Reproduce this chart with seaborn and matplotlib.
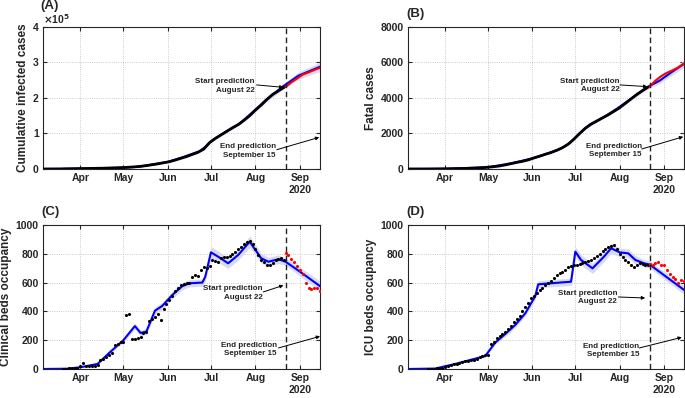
import matplotlib
matplotlib.use('Agg')
import matplotlib.pyplot as plt
import numpy as np
import pandas as pd
import seaborn as sns

# ---- (A) cumulative infected cases, units of 1e5 ----
a_model_dates = ['2020-03-06', '2020-04-01', '2020-05-01', '2020-05-12', '2020-06-01', '2020-06-12',
                 '2020-06-23', '2020-06-27', '2020-07-01', '2020-07-11', '2020-07-21', '2020-07-30',
                 '2020-08-08', '2020-08-20', '2020-08-31', '2020-09-15']
a_model = [0, 0.01, 0.04, 0.065, 0.2, 0.34, 0.5, 0.62, 0.78, 1.04, 1.28, 1.6, 1.93, 2.32, 2.63, 2.88]
a_band = [0, 0, 0.005, 0.005, 0.01, 0.015, 0.02, 0.025, 0.03, 0.035, 0.04, 0.05, 0.06, 0.07, 0.1, 0.13]
# observed every 4 days, Mar 6 .. Aug 21
a_data = [0, 0, 0, 0, 0.005, 0.007, 0.01, 0.012, 0.015, 0.018, 0.02, 0.024, 0.028, 0.033,
          0.04, 0.05, 0.06, 0.075, 0.095, 0.12, 0.145, 0.175, 0.205, 0.25, 0.3, 0.35, 0.41, 0.47,
          0.56, 0.74, 0.86, 0.96, 1.06, 1.16, 1.25, 1.37, 1.5, 1.66, 1.8, 1.96, 2.1, 2.2, 2.3]
# observed after prediction start, every 4 days, Aug 22 .. Sep 15
a_pred = [2.31, 2.44, 2.55, 2.66, 2.72, 2.79, 2.85]

# ---- (B) fatal cases ----
b_model_dates = ['2020-03-06', '2020-04-01', '2020-05-01', '2020-05-17', '2020-06-01', '2020-06-12',
                 '2020-06-21', '2020-06-27', '2020-07-02', '2020-07-11', '2020-07-21', '2020-07-30',
                 '2020-08-11', '2020-08-21', '2020-08-29', '2020-09-06', '2020-09-15']
b_model = [0, 10, 100, 317, 600, 876, 1155, 1450, 1850, 2500, 2930, 3390, 4080, 4640, 4980, 5440, 5920]
b_band = [0, 5, 10, 15, 20, 25, 30, 40, 50, 60, 70, 80, 100, 120, 150, 180, 200]
b_data = [0, 0, 0, 0, 2, 5, 8, 12, 18, 25, 32, 42, 55, 75, 100, 130, 170, 230, 300, 370, 430, 510,
          620, 720, 830, 930, 1050, 1200, 1400, 1680, 2000, 2300, 2520, 2700, 2880, 3050, 3250,
          3450, 3700, 3950, 4200, 4420, 4620]
b_pred = [4650, 4980, 5230, 5420, 5560, 5720, 5950]

# ---- (C) clinical beds occupancy ----
c_model_dates = ['2020-03-06', '2020-03-23', '2020-04-01', '2020-04-13', '2020-04-21', '2020-05-01',
                 '2020-05-09', '2020-05-13', '2020-05-17', '2020-05-23', '2020-05-28', '2020-06-04',
                 '2020-06-11', '2020-06-16', '2020-06-25', '2020-06-27', '2020-07-01', '2020-07-06',
                 '2020-07-13', '2020-07-20', '2020-07-28', '2020-08-05', '2020-08-10', '2020-08-17',
                 '2020-08-22', '2020-09-01', '2020-09-15']
c_model = [0, 2, 12, 35, 111, 200, 298, 250, 260, 405, 437, 513, 575, 595, 600, 640, 810, 780, 734,
           792, 884, 769, 745, 762, 745, 676, 575]
c_band = [0, 2, 4, 6, 10, 15, 20, 20, 20, 25, 25, 25, 25, 25, 25, 30, 40, 40, 35, 35, 40, 35, 30, 30,
          25, 30, 35]
# observed every 2 days, Mar 20 .. Aug 21
c_data = [2, 3, 4, 5, 8, 10,
          20, 40, 18, 18, 20, 22, 25, 60, 70, 85, 95, 110, 165, 175, 185,
          190, 375, 385, 205, 210, 215, 225, 250, 260, 330, 345, 360, 385, 340, 420, 450,
          480, 510, 540, 560, 580, 590, 595, 600, 640, 650, 645, 690, 705, 700, 715,
          760, 750, 745, 770, 780, 775, 785, 800, 815, 835, 850, 865, 880, 890, 870,
          830, 790, 760, 740, 725, 725, 735, 755, 765, 770, 760]
# observed every 2 days, Aug 22 .. Sep 15
c_pred = [805, 790, 765, 740, 715, 690, 660, 600, 560, 555, 560, 565, 545]

# ---- (D) ICU beds occupancy ----
d_model_dates = ['2020-03-06', '2020-03-25', '2020-04-08', '2020-04-29', '2020-05-06', '2020-05-13',
                 '2020-05-20', '2020-05-27', '2020-06-03', '2020-06-05', '2020-06-20', '2020-06-28',
                 '2020-07-01', '2020-07-05', '2020-07-13', '2020-07-21', '2020-07-26', '2020-08-01',
                 '2020-08-07', '2020-08-12', '2020-08-18', '2020-08-22', '2020-09-15']
d_model = [0, 3, 35, 90, 183, 243, 306, 387, 507, 588, 600, 606, 815, 757, 699, 780, 838, 810, 803,
           757, 734, 725, 549]
d_band = [0, 2, 5, 8, 12, 15, 18, 20, 25, 25, 25, 25, 35, 35, 35, 35, 35, 30, 30, 30, 25, 25, 30]
d_data = [1, 2, 3, 5, 8, 10,
          14, 20, 25, 32, 35, 42, 48, 52, 56, 60, 65, 72, 80, 88, 95,
          100, 175, 185, 215, 230, 240, 260, 280, 300, 325, 345, 370, 400, 430, 455, 490,
          510, 530, 550, 565, 580, 595, 610, 630, 650, 665, 675, 690, 705, 715, 720,
          725, 730, 735, 745, 750, 760, 770, 785, 800, 820, 835, 845, 855, 860, 830,
          800, 780, 760, 740, 720, 710, 725, 735, 730, 725, 720]
d_pred = [730, 720, 735, 745, 725, 720, 690, 660, 640, 625, 600, 615, 610]

month_ticks = ['2020-04-01', '2020-05-01', '2020-06-01', '2020-07-01', '2020-08-01', '2020-09-01']
month_labels = ['Apr', 'May', 'Jun', 'Jul', 'Aug', 'Sep\n2020']

sns.set_style('ticks')
plt.rcParams['font.family'] = ['Liberation Sans', 'DejaVu Sans']
plt.rcParams['font.weight'] = 'bold'
plt.rcParams['axes.labelweight'] = 'bold'

band_col = '#d8daef'

fig = plt.figure(figsize=(6.85, 3.98), dpi=100)
axA = fig.add_axes([0.0628, 0.5754, 0.4044, 0.3568])
axB = fig.add_axes([0.5956, 0.5754, 0.4030, 0.3568])
axC = fig.add_axes([0.0628, 0.0729, 0.4044, 0.3618])
axD = fig.add_axes([0.5956, 0.0729, 0.4030, 0.3618])

pred_start = pd.Timestamp('2020-08-22')
xmin, xmax = pd.Timestamp('2020-03-06'), pd.Timestamp('2020-09-15')


def draw(ax, mdates_, model, band, data, pred, obs_step, scatter):
    md = pd.to_datetime(mdates_)
    model = np.array(model, float)
    band = np.array(band, float)
    ax.fill_between(md, model - band, model + band, color=band_col, lw=0, zorder=1)
    sns.lineplot(x=md, y=model, ax=ax, color='blue', lw=1.5, zorder=3)
    if scatter:
        od = pd.date_range('2020-03-20', '2020-08-21', freq=obs_step)
        pdts = pd.date_range('2020-08-22', '2020-09-15', freq=obs_step)
        sns.scatterplot(x=od, y=data, ax=ax, color='black', s=5, linewidth=0, zorder=4)
        sns.scatterplot(x=pdts, y=pred, ax=ax, color='red', s=5, linewidth=0, zorder=4)
    else:
        od = pd.date_range('2020-03-06', '2020-08-21', freq=obs_step)
        pdts = pd.date_range('2020-08-22', '2020-09-15', freq=obs_step)
        sns.lineplot(x=od, y=data, ax=ax, color='black', lw=2.0, zorder=4)
        sns.lineplot(x=pdts, y=pred, ax=ax, color='red', lw=1.5, zorder=4)
    ax.axvline(pred_start, color='#222222', lw=1.0, ls=(0, (4, 2.5)), zorder=5)
    ax.set_xlim(xmin, xmax)
    ax.set_xticks(pd.to_datetime(month_ticks))
    ax.set_xticklabels(month_labels)
    ax.grid(True, ls=':', lw=0.6, color='#bbbbbb')
    ax.tick_params(direction='in', length=3, top=True, right=True, labelsize=7.5, pad=3)
    for lab in ax.get_xticklabels() + ax.get_yticklabels():
        lab.set_fontweight('bold')
    for s in ax.spines.values():
        s.set_color('#262626')
        s.set_linewidth(0.8)
    ax.set_xlabel('')


def notes(ax, start_txt, start_tail, start_tip, end_txt, end_tail, end_tip):
    kw = dict(transform=ax.transAxes, ha='right', va='center', fontsize=5.8,
              fontweight='bold', multialignment='right', linespacing=1.25, zorder=6)
    ax.text(*start_txt, 'Start prediction\nAugust 22', **kw)
    ax.text(*end_txt, 'End prediction\nSeptember 15', **kw)
    ap = dict(arrowstyle='-|>', color='black', lw=0.7, mutation_scale=5, shrinkA=0, shrinkB=0)
    ax.annotate('', xy=start_tip, xytext=start_tail, xycoords='axes fraction',
                textcoords='axes fraction', arrowprops=ap, zorder=6)
    ax.annotate('', xy=end_tip, xytext=end_tail, xycoords='axes fraction',
                textcoords='axes fraction', arrowprops=ap, zorder=6)


draw(axA, a_model_dates, a_model, a_band, a_data, a_pred, '4D', False)
axA.set_ylim(0, 4)
axA.set_yticks([0, 1, 2, 3, 4])
axA.set_ylabel('Cumulative infected cases', fontsize=8.5, labelpad=3)
axA.text(0.0, 1.056, r'$\times$10$^{5}$', transform=axA.transAxes, fontsize=7.5,
         fontweight='bold', ha='left', va='center')
axA.text(-0.01, 1.19, '(A)', transform=axA.transAxes, fontsize=9.5, fontweight='bold',
         ha='left', va='top')
notes(axA, (0.765, 0.585), (0.771, 0.592), (0.868, 0.575),
      (0.841, 0.127), (0.844, 0.136), (0.997, 0.223))

draw(axB, b_model_dates, b_model, b_band, b_data, b_pred, '4D', False)
axB.set_ylim(0, 8000)
axB.set_yticks([0, 2000, 4000, 6000, 8000])
axB.set_ylabel('Fatal cases', fontsize=8.5, labelpad=3)
axB.text(-0.005, 1.05, '(B)', transform=axB.transAxes, fontsize=9.5, fontweight='bold',
         ha='left', va='bottom')
notes(axB, (0.766, 0.587), (0.768, 0.592), (0.867, 0.580),
      (0.847, 0.129), (0.847, 0.141), (0.997, 0.227))

draw(axC, c_model_dates, c_model, c_band, c_data, c_pred, '2D', True)
axC.set_ylim(0, 1000)
axC.set_yticks([0, 200, 400, 600, 800, 1000])
axC.set_ylabel('Clinical beds occupancy', fontsize=8.5, labelpad=3)
axC.text(-0.005, 1.05, '(C)', transform=axC.transAxes, fontsize=9.5, fontweight='bold',
         ha='left', va='bottom')
notes(axC, (0.793, 0.528), (0.795, 0.535), (0.868, 0.581),
      (0.844, 0.134), (0.850, 0.146), (1.0, 0.227))

draw(axD, d_model_dates, d_model, d_band, d_data, d_pred, '2D', True)
axD.set_ylim(0, 1000)
axD.set_yticks([0, 200, 400, 600, 800, 1000])
axD.set_ylabel('ICU beds occupancy', fontsize=8.5, labelpad=3)
axD.text(-0.005, 1.05, '(D)', transform=axD.transAxes, fontsize=9.5, fontweight='bold',
         ha='left', va='bottom')
notes(axD, (0.758, 0.498), (0.762, 0.500), (0.859, 0.493),
      (0.838, 0.130), (0.838, 0.146), (0.992, 0.220))

fig.savefig('out.png', dpi=100)
